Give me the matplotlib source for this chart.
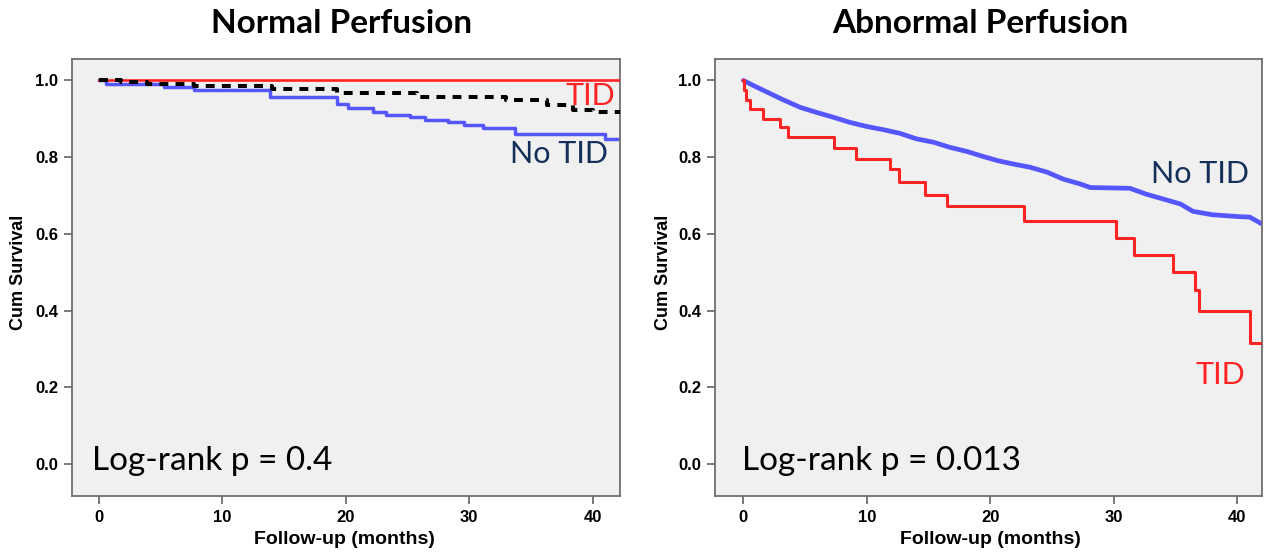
import matplotlib
matplotlib.use("Agg")
import matplotlib.pyplot as plt

# ---------------- data ----------------
# Left panel: Normal Perfusion
normal_tid_t = [0, 45]
normal_tid_s = [1.0, 1.0]

normal_notid_t = [0, 0.6, 5.3, 7.7, 13.9, 19.3, 20.2, 22.2, 23.3, 25.2, 26.4, 28.3, 29.6, 31.1, 33.7, 41.0, 45]
normal_notid_s = [1.0, 0.991, 0.984, 0.975, 0.956, 0.938, 0.928, 0.919, 0.911, 0.905, 0.898, 0.891, 0.885, 0.877, 0.860, 0.848, 0.848]

normal_all_t = [0, 1.8, 3.9, 7.7, 14.0, 19.3, 25.8, 33.0, 36.3, 38.4, 40.0, 45]
normal_all_s = [1.0, 0.996, 0.990, 0.986, 0.979, 0.967, 0.958, 0.949, 0.936, 0.924, 0.918, 0.918]

# Right panel: Abnormal Perfusion
abn_tid_t = [0, 0.02, 0.2, 0.5, 1.6, 3.0, 3.6, 7.3, 9.1, 11.9, 12.6, 14.7, 16.5, 22.7, 30.2, 31.6, 34.8, 36.6, 36.9, 41.0, 45]
abn_tid_s = [1.0, 0.974, 0.950, 0.926, 0.900, 0.878, 0.852, 0.823, 0.796, 0.769, 0.735, 0.702, 0.674, 0.634, 0.590, 0.545, 0.500, 0.455, 0.400, 0.317, 0.317]

abn_notid_t = [0, 0.8, 1.9, 3.2, 4.6, 5.9, 7.3, 8.6, 10.0, 11.3, 12.7, 14.0, 15.4, 16.7, 18.1, 19.4, 20.6, 21.9,
               23.2, 24.6, 25.9, 27.3, 28.1, 31.3, 32.6, 34.0, 35.4, 36.4, 38.0, 40.2, 41.0, 42.0]
abn_notid_s = [1.0, 0.987, 0.970, 0.950, 0.930, 0.917, 0.904, 0.891, 0.880, 0.872, 0.862, 0.848, 0.839, 0.826, 0.815, 0.802, 0.791, 0.782,
               0.774, 0.761, 0.743, 0.730, 0.721, 0.719, 0.704, 0.691, 0.678, 0.659, 0.650, 0.645, 0.644, 0.626]

titles = ["Normal Perfusion", "Abnormal Perfusion"]
pvalue_texts = ["Log-rank p = 0.4", "Log-rank p = 0.013"]
x_ticks = [0, 10, 20, 30, 40]
y_ticks = [0.0, 0.2, 0.4, 0.6, 0.8, 1.0]

# ---------------- style ----------------
RED = "#ff2424"
BLUE = "#5656ff"
NAVY = "#14305a"
BG = "#f0f0f0"
SPINE = "#6e6e6e"
TITLE_FONT = "Lato"
TICK_FONT = "Liberation Sans"

W, H = 1264, 552
fig = plt.figure(figsize=(W / 100, H / 100), dpi=100)

ax1 = fig.add_axes([72 / W, 1 - 496 / H, 548 / W, (496 - 59) / H])
ax2 = fig.add_axes([715 / W, 1 - 496 / H, 547 / W, (496 - 59) / H])

for ax, xl in ((ax1, (-2.15, 42.2)), (ax2, (-2.3, 42.0))):
    ax.set_facecolor(BG)
    ax.set_xlim(*xl)
    ax.set_ylim(-0.083, 1.056)
    ax.set_xticks(x_ticks)
    ax.set_yticks(y_ticks)
    ax.set_xticklabels([str(v) for v in x_ticks])
    ax.set_yticklabels([f"{v:.1f}" for v in y_ticks])
    for lab in ax.get_xticklabels() + ax.get_yticklabels():
        lab.set_fontfamily(TICK_FONT)
        lab.set_fontweight("bold")
        lab.set_fontsize(12)
    for sp in ax.spines.values():
        sp.set_color(SPINE)
        sp.set_linewidth(1.3)
    ax.tick_params(direction="out", length=6, width=1.3, color=SPINE, labelcolor="black", pad=4)

# Left panel curves
ax1.step(normal_tid_t, normal_tid_s, where="post", color=RED, lw=1.9, zorder=3)
ax1.step(normal_notid_t, normal_notid_s, where="post", color=BLUE, lw=2.5, zorder=2)
ax1.step(normal_all_t, normal_all_s, where="post", color="black", lw=2.9,
         linestyle=(0, (2.2, 1.8)), zorder=4)

# Right panel curves
ax2.plot(abn_notid_t, abn_notid_s, color=BLUE, lw=3.4, zorder=2, solid_capstyle="round")
ax2.step(abn_tid_t, abn_tid_s, where="post", color=RED, lw=2.2, zorder=3)

# Curve labels
lab_kw = dict(family=TITLE_FONT, fontsize=22, ha="center", va="baseline")
ax1.text(39.8, 0.936, "TID", color=RED, **lab_kw)
ax1.text(37.3, 0.784, "No TID", color=NAVY, **lab_kw)
ax2.text(37.0, 0.734, "No TID", color=NAVY, **lab_kw)
ax2.text(38.6, 0.210, "TID", color=RED, **lab_kw)

# p-values
ax1.text(-0.5, -0.016, pvalue_texts[0], family=TITLE_FONT, fontsize=24, ha="left", va="baseline", color="black")
ax2.text(-0.1, -0.016, pvalue_texts[1], family=TITLE_FONT, fontsize=24, ha="left", va="baseline", color="black")

# Titles
fig.text(341.5 / W, 1 - 33 / H, titles[0], family=TITLE_FONT, fontweight="bold", fontsize=24,
         ha="center", va="baseline")
fig.text(980 / W, 1 - 33 / H, titles[1], family=TITLE_FONT, fontweight="bold", fontsize=24,
         ha="center", va="baseline")

# Axis labels
for xc in (344, 990):
    fig.text(xc / W, 1 - 540 / H, "Follow-up (months)", family=TICK_FONT, fontweight="bold",
             fontsize=14, ha="center", va="center")
for xc in (19, 663):
    fig.text(xc / W, 1 - 272 / H, "Cum Survival", family=TICK_FONT, fontweight="bold",
             fontsize=13, ha="center", va="center", rotation=90)

fig.savefig("out.png", dpi=100, facecolor="white")
